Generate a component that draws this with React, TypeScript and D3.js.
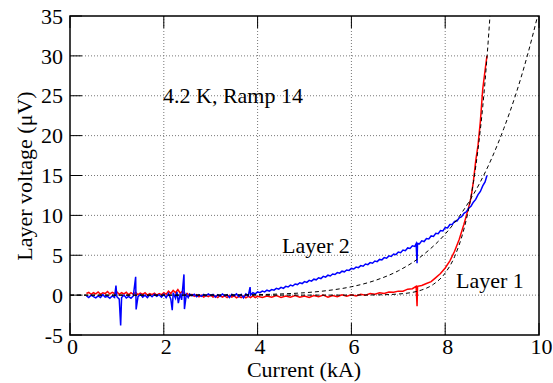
import React from "react";
import * as d3 from "d3";

// Layer 2 (blue)
const layer2Current = [
  0.35, 0.4, 0.45, 0.5, 0.55, 0.6, 0.65, 0.7, 0.75, 0.8, 0.85, 0.9, 0.95, 0.98, 1.0, 1.05, 1.08, 1.1,
  1.15, 1.2, 1.25, 1.3, 1.35, 1.4, 1.41, 1.45, 1.5, 1.55, 1.6, 1.65, 1.7, 1.75, 1.8, 1.85, 1.9, 1.95,
  2.0, 2.05, 2.1, 2.15, 2.18, 2.2, 2.25, 2.28, 2.31, 2.35, 2.38, 2.43, 2.44, 2.48, 2.52, 2.55, 2.6,
  2.65, 2.7, 2.75, 2.8, 2.85, 2.9, 2.95, 3.0, 3.05, 3.1, 3.15, 3.2, 3.25, 3.3, 3.35, 3.4, 3.45, 3.5,
  3.55, 3.6, 3.65, 3.7, 3.75, 3.8, 3.84, 3.85, 3.9, 3.95,
  4.0, 4.05, 4.1, 4.15, 4.2, 4.25, 4.3, 4.35, 4.4, 4.45, 4.5, 4.55, 4.6, 4.65, 4.7, 4.75, 4.8, 4.85,
  4.9, 4.95, 5.0, 5.05, 5.1, 5.15, 5.2, 5.25, 5.3, 5.35, 5.4, 5.45, 5.5, 5.55, 5.6, 5.65, 5.7, 5.75,
  5.8, 5.85, 5.9, 5.95, 6.0, 6.05, 6.1, 6.15, 6.2, 6.25, 6.3, 6.35, 6.4, 6.45, 6.5, 6.55, 6.6, 6.65,
  6.7, 6.75, 6.8, 6.85, 6.9, 6.95, 7.0, 7.05, 7.1, 7.15, 7.2, 7.25, 7.3, 7.35, 7.38, 7.4, 7.41, 7.45,
  7.5, 7.55, 7.6, 7.65, 7.7, 7.75, 7.8, 7.85, 7.9, 7.95, 8.0, 8.05, 8.1, 8.15, 8.2, 8.25, 8.3, 8.35,
  8.4, 8.45, 8.5, 8.55, 8.6, 8.65, 8.7, 8.75, 8.8, 8.85, 8.89,
];
const layer2Voltage = [
  -0.1, -0.3, 0.0, -0.2, -0.35, -0.1, -0.3, 0.05, -0.25, -0.15, -0.4, -0.1, -0.3, 1.2, -0.2, -0.5, -3.8, -0.3,
  0.0, -0.35, -0.15, -0.4, -0.1, 2.3, -1.8, -0.2, 0.1, -0.25, 0.0, -0.3, 0.05, -0.2, 0.1, -0.15, 0.05, -0.25,
  0.1, -0.3, 0.2, -0.5, -1.9, 0.3, -0.4, 0.4, -1.0, 0.2, -0.6, 2.6, -1.75, 0.1, -0.3, 0.15, -0.1,
  0.1, -0.2, 0.05, -0.15, 0.1, -0.1, 0.15, -0.05, 0.1, -0.25, 0.05, -0.15, 0.15, -0.1, 0.05, -0.3, 0.1, -0.1,
  0.15, -0.2, 0.1, -0.35, 0.15, -0.1, 1.0, 0.0, 0.3, 0.15,
  0.4, 0.3, 0.5, 0.4, 0.62, 0.5, 0.7, 0.62, 0.85, 0.75, 0.98, 0.85, 1.1, 1.02, 1.25, 1.15, 1.4, 1.32,
  1.55, 1.45, 1.7, 1.6, 1.85, 1.75, 2.0, 1.92, 2.18, 2.08, 2.35, 2.25, 2.5, 2.4, 2.65, 2.58, 2.82, 2.75,
  3.0, 2.92, 3.15, 3.1, 3.35, 3.28, 3.52, 3.45, 3.7, 3.62, 3.9, 3.82, 4.08, 4.0, 4.28, 4.2, 4.48, 4.42,
  4.7, 4.62, 4.92, 4.85, 5.15, 5.08, 5.4, 5.32, 5.65, 5.58, 5.92, 5.85, 6.18, 6.1, 6.45, 4.0, 6.5, 6.42,
  6.8, 6.72, 7.1, 7.05, 7.42, 7.35, 7.75, 7.7, 8.1, 8.05, 8.48, 8.42, 8.85, 8.85, 9.25, 9.3, 9.7, 9.85,
  10.25, 10.45, 10.9, 11.15, 11.65, 12.0, 12.6, 13.0, 13.7, 14.2, 15.0,
];

// Layer 1 (red)
const layer1Current = [
  0.35, 0.4, 0.45, 0.5, 0.55, 0.6, 0.65, 0.7, 0.75, 0.8, 0.85, 0.9, 0.95, 1.0, 1.05, 1.1, 1.15, 1.2,
  1.25, 1.3, 1.35, 1.4, 1.45, 1.5, 1.55, 1.6, 1.65, 1.7, 1.75, 1.8, 1.85, 1.9, 1.95, 2.0, 2.05, 2.1,
  2.15, 2.2, 2.25, 2.3, 2.35, 2.4, 2.45, 2.5, 2.55, 2.6, 2.65, 2.7, 2.75, 2.8, 2.85, 2.9, 2.95, 3.0,
  3.05, 3.1, 3.15, 3.2, 3.25, 3.3, 3.35, 3.4, 3.45, 3.5, 3.55, 3.6, 3.65, 3.7, 3.75, 3.8, 3.85, 3.9,
  3.95, 4.0, 4.1, 4.2, 4.3, 4.4, 4.5, 4.6, 4.7, 4.8, 4.9, 5.0, 5.1, 5.2, 5.3, 5.4, 5.5, 5.6, 5.7, 5.8,
  5.9, 6.0, 6.1, 6.2, 6.3, 6.4, 6.5, 6.6, 6.7, 6.8, 6.9, 7.0, 7.1, 7.2, 7.3, 7.38, 7.4, 7.41, 7.5,
  7.6, 7.7, 7.8, 7.9, 8.0, 8.1, 8.2, 8.3, 8.4, 8.5, 8.55, 8.6, 8.65, 8.7, 8.75, 8.8, 8.85, 8.89,
];
const layer1Voltage = [
  0.2, 0.35, 0.1, 0.3, 0.15, 0.4, 0.1, 0.3, 0.2, 0.45, 0.15, 0.35, 0.2, 0.4, 0.1, 0.3, 0.15, 0.35,
  0.05, 0.3, 0.1, 0.35, 0.05, 0.25, 0.1, 0.3, 0.0, 0.2, 0.05, 0.25, 0.0, 0.2, 0.05, 0.3, 0.1, 0.5,
  0.2, 0.6, 0.3, 0.7, 0.25, 0.5, 0.0, 0.2, -0.1, 0.1, -0.15, 0.05, -0.2, 0.0, -0.25, -0.05, -0.2, 0.0,
  -0.25, -0.1, -0.3, -0.05, -0.25, -0.1, -0.3, -0.05, -0.25, -0.1, -0.35, -0.15, -0.3, -0.1, -0.35, -0.15, -0.3, -0.1,
  -0.3, -0.15, -0.3, -0.1, -0.25, -0.05, -0.3, -0.1, -0.25, -0.05, -0.25, -0.1, -0.3, -0.05, -0.2, 0.0, -0.25, -0.05, -0.2, 0.05,
  -0.15, 0.05, -0.1, 0.1, 0.0, 0.2, 0.1, 0.3, 0.2, 0.4, 0.35, 0.5, 0.5, 0.75, 0.8, 1.1, -1.4, 1.1, 1.2,
  1.45, 1.7, 2.2, 2.7, 3.4, 4.3, 5.5, 7.0, 8.9, 11.0, 12.2, 14.2, 16.8, 18.8, 21.8, 25.8, 28.2, 30.0,
];

// Fitted curves (dashed)
const fit1Current = [0, 1, 2, 3, 4, 5, 6, 6.5, 7, 7.5, 7.75, 8, 8.2, 8.4, 8.5, 8.6, 8.7, 8.8, 8.9, 8.955];
const fit1Voltage = [0, 0, 0, 0, 0, 0, 0.004, 0.026, 0.137, 0.65, 1.36, 2.77, 4.82, 8.29, 10.8, 14.1, 18.3, 23.6, 30.5, 35];
const fit2Current = [0, 1, 2, 3, 3.5, 4, 4.5, 5, 5.5, 6, 6.5, 7, 7.5, 8, 8.25, 8.5, 8.75, 9, 9.25, 9.5, 9.75, 9.97];
const fit2Voltage = [0, 0, 0, 0.01, 0.03, 0.06, 0.15, 0.3, 0.58, 1.05, 1.83, 3.05, 4.91, 7.66, 9.47, 11.64, 14.2, 17.27, 20.9, 25.08, 30.0, 35];

const xTicks = [0, 2, 4, 6, 8, 10];
const yTicks = [-5, 0, 5, 10, 15, 20, 25, 30, 35];

const W = 553;
const H = 383;
const FONT = '"Liberation Serif", "DejaVu Serif", serif';

export default function App() {
  const x = d3.scaleLinear().domain([0, 10]).range([70, 539]);
  const y = d3.scaleLinear().domain([-5, 35]).range([335, 16]);
  const [x0, x1] = x.range();
  const [y0, y1] = y.range();

  const line = d3
    .line<[number, number]>()
    .x((d) => x(d[0]))
    .y((d) => y(d[1]));
  const smooth = d3
    .line<[number, number]>()
    .x((d) => x(d[0]))
    .y((d) => y(d[1]))
    .curve(d3.curveMonotoneX);

  const zip = (a: number[], b: number[]) => a.map((v, i) => [v, b[i]] as [number, number]);
  const tick = 12;
  const ts = { fontFamily: FONT };
  const FS = 22;

  return (
    <svg
      width={W}
      height={H}
      style={{ position: "absolute", left: 0, top: 0, background: "#fff", fontFamily: FONT }}
    >
      <defs>
        <clipPath id="plot">
          <rect x={x0} y={y1} width={x1 - x0} height={y0 - y1} />
        </clipPath>
      </defs>
      {/* grid */}
      {yTicks
        .filter((t) => t !== -5 && t !== 35)
        .map((t) => (
          <line key={"gy" + t} x1={x0} x2={x1} y1={y(t)} y2={y(t)} stroke="#777" strokeWidth={1} strokeDasharray="1,2" />
        ))}
      {xTicks
        .filter((t) => t !== 0 && t !== 10)
        .map((t) => (
          <line key={"gx" + t} x1={x(t)} x2={x(t)} y1={y0} y2={y1} stroke="#777" strokeWidth={1} strokeDasharray="1,2" />
        ))}
      {/* ticks */}
      {yTicks.map((t) => (
        <line key={"ty" + t} x1={x0} x2={x0 + tick} y1={y(t)} y2={y(t)} stroke="#000" strokeWidth={1} />
      ))}
      {xTicks.map((t) => (
        <g key={"tx" + t}>
          <line x1={x(t)} x2={x(t)} y1={y0} y2={y0 - tick} stroke="#000" strokeWidth={1} />
          <line x1={x(t)} x2={x(t)} y1={y1} y2={y1 + tick} stroke="#000" strokeWidth={1} />
        </g>
      ))}
      {/* data */}
      <g clipPath="url(#plot)">
        <path d={line(zip(layer1Current, layer1Voltage)) || ""} fill="none" stroke="#ff0000" strokeWidth={1.5} />
        <path d={line(zip(layer2Current, layer2Voltage)) || ""} fill="none" stroke="#0000ff" strokeWidth={1.5} />
        <path d={smooth(zip(fit1Current, fit1Voltage)) || ""} fill="none" stroke="#000" strokeWidth={1} strokeDasharray="4,3" />
        <path d={smooth(zip(fit2Current, fit2Voltage)) || ""} fill="none" stroke="#000" strokeWidth={1} strokeDasharray="4,3" />
      </g>
      {/* frame */}
      <rect x={x0} y={y1} width={x1 - x0} height={y0 - y1} fill="none" stroke="#000" strokeWidth={1.5} />
      {/* tick labels */}
      {yTicks.map((t) => (
        <text key={"ly" + t} style={ts} x={x0 - 7} y={y(t)} dy="0.35em" textAnchor="end" fontSize={FS} fill="#000">
          {t}
        </text>
      ))}
      {xTicks.map((t) => (
        <text key={"lx" + t} style={ts} x={x(t) + 2.5} y={354} textAnchor="middle" fontSize={FS} fill="#000">
          {t}
        </text>
      ))}
      {/* axis titles */}
      <text style={ts} x={304} y={377} textAnchor="middle" fontSize={FS} fill="#000">
        Current (kA)
      </text>
      <text
        style={ts}
        transform={`translate(32, 176) rotate(-90)`}
        textAnchor="middle"
        fontSize={FS}
        fill="#000"
      >
        Layer voltage (μV)
      </text>
      {/* annotations */}
      <text style={ts} x={163} y={103} fontSize={FS} fill="#000">
        4.2 K, Ramp 14
      </text>
      <text style={ts} x={282} y={253} fontSize={FS} fill="#000">
        Layer 2
      </text>
      <text style={ts} x={456} y={288} fontSize={FS} fill="#000">
        Layer 1
      </text>
    </svg>
  );
}
